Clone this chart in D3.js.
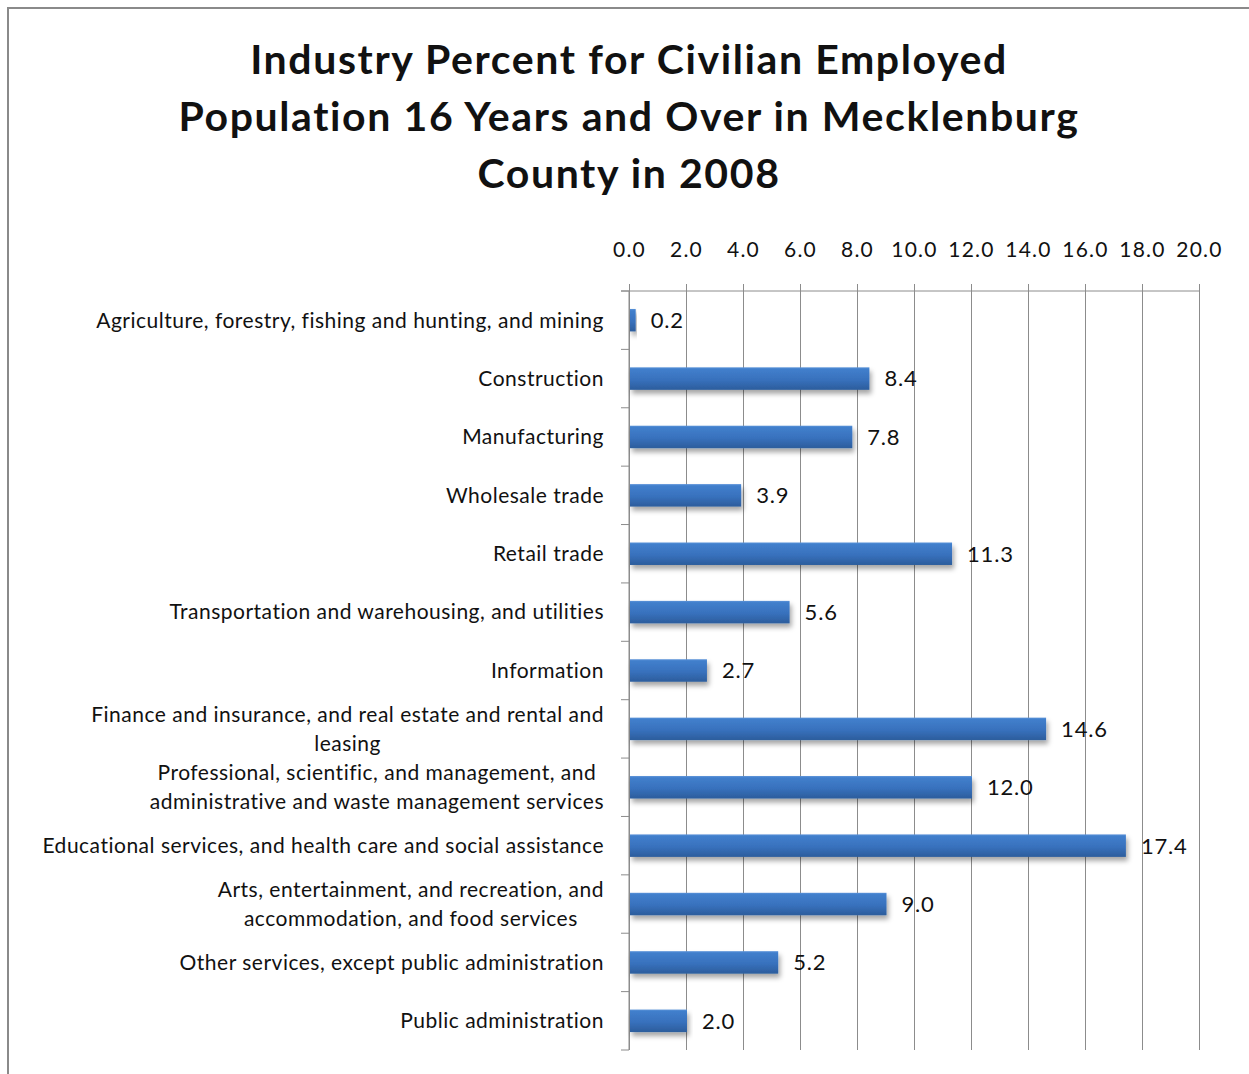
<!DOCTYPE html>
<html>
<head>
<meta charset="utf-8">
<script src="https://cdn.jsdelivr.net/npm/d3@7"></script>
<style>
  html, body { margin: 0; padding: 0; background: #fff; }
  svg { display: block; }
  text { font-family: Lato, "Open Sans", "Liberation Sans", sans-serif; fill: #111; }
</style>
</head>
<body>
<svg id="chart" width="1249" height="1074"></svg>
<script>
// Industry shares (%) of the civilian employed population 16+, Mecklenburg County, 2008
const titleLines = [
  "Industry Percent for Civilian Employed",
  "Population 16 Years and Over in Mecklenburg",
  "County in 2008"
];
const categories = [
  "Agriculture, forestry, fishing and hunting, and mining",
  "Construction",
  "Manufacturing",
  "Wholesale trade",
  "Retail trade",
  "Transportation and warehousing, and utilities",
  "Information",
  "Finance and insurance, and real estate  and rental and\nleasing",
  "Professional, scientific, and management, and\nadministrative and waste management services",
  "Educational services, and health care and social assistance",
  "Arts, entertainment, and recreation, and\naccommodation, and food services",
  "Other services, except public administration",
  "Public administration"
];
const values = [0.2, 8.4, 7.8, 3.9, 11.3, 5.6, 2.7, 14.6, 12.0, 17.4, 9.0, 5.2, 2.0];
const tickValues = [0, 2, 4, 6, 8, 10, 12, 14, 16, 18, 20];

const svg = d3.select("#chart");
const W = 1249, H = 1074;
const plot = { left: 629, right: 1199, top: 291, bottom: 1050 };

// outer chart frame (runs past the right/bottom edges)
svg.append("rect")
  .attr("x", 8).attr("y", 8).attr("width", W + 20).attr("height", H + 20)
  .attr("fill", "none").attr("stroke", "#8a8a8a").attr("stroke-width", 2);

// title
svg.append("g").selectAll("text").data(titleLines).join("text")
  .attr("x", 629).attr("y", (d, i) => 74 + i * 57)
  .attr("text-anchor", "middle")
  .style("font-size", "41px").style("font-weight", "bold")
  .style("letter-spacing", "1.6px")
  .text(d => d);

const x = d3.scaleLinear().domain([0, 20]).range([plot.left, plot.right]);
const y = d3.scaleBand().domain(d3.range(categories.length))
  .range([plot.top, plot.bottom]).paddingInner(0.615).paddingOuter(0.3075);

// defs: bar gradient and soft shadow
const defs = svg.append("defs");
const grad = defs.append("linearGradient").attr("id", "barGrad")
  .attr("x1", 0).attr("y1", 0).attr("x2", 0).attr("y2", 1);
grad.append("stop").attr("offset", "0%").attr("stop-color", "#5a92d8");
grad.append("stop").attr("offset", "8%").attr("stop-color", "#417fcc");
grad.append("stop").attr("offset", "55%").attr("stop-color", "#3871bd");
grad.append("stop").attr("offset", "100%").attr("stop-color", "#2c5d9c");
const shadow = defs.append("filter").attr("id", "barShadow")
  .attr("x", "-5%").attr("y", "-30%").attr("width", "115%").attr("height", "190%");
shadow.append("feDropShadow").attr("dx", 2).attr("dy", 4).attr("stdDeviation", 2.5)
  .attr("flood-color", "#000").attr("flood-opacity", 0.35);

// top value axis with vertical gridlines
const xAxis = d3.axisTop(x).tickValues(tickValues).tickFormat(d3.format(".1f"))
  .tickSize(7).tickPadding(27);
const gx = svg.append("g").attr("transform", `translate(0,${plot.top})`).call(xAxis);
gx.select(".domain").remove();
gx.selectAll(".tick line").attr("stroke", "#8c8c8c").attr("y2", plot.bottom - plot.top).attr("y1", -7);
gx.selectAll(".tick text").style("font-size", "21px").attr("fill", "#111")
  .style("letter-spacing", "1.2px")
  .style("font-family", "Lato, 'Open Sans', sans-serif");
svg.append("line")
  .attr("x1", plot.left - 8).attr("x2", x(20))
  .attr("y1", plot.top).attr("y2", plot.top)
  .attr("stroke", "#8c8c8c");

// category axis line with boundary ticks
const bandStep = (plot.bottom - plot.top) / categories.length;
svg.append("line")
  .attr("x1", plot.left).attr("x2", plot.left)
  .attr("y1", plot.top).attr("y2", plot.bottom)
  .attr("stroke", "#8c8c8c");
svg.append("g").selectAll("line").data(d3.range(categories.length + 1)).join("line")
  .attr("x1", plot.left - 8).attr("x2", plot.left)
  .attr("y1", i => plot.top + i * bandStep).attr("y2", i => plot.top + i * bandStep)
  .attr("stroke", "#8c8c8c");

// bars
svg.append("g").selectAll("rect").data(values).join("rect")
  .attr("x", x(0) + 1)
  .attr("y", (d, i) => y(i))
  .attr("width", d => x(d) - x(0))
  .attr("height", y.bandwidth())
  .attr("fill", "url(#barGrad)")
  .attr("filter", "url(#barShadow)");

// value labels
svg.append("g").selectAll("text").data(values).join("text")
  .attr("x", d => x(d) + 16)
  .attr("y", (d, i) => y(i) + y.bandwidth() / 2)
  .attr("dy", "0.36em")
  .style("font-size", "22px").style("letter-spacing", "0.8px").attr("fill", "#111")
  .text(d => d3.format(".1f")(d));

// category labels, centred blocks right-aligned against the axis
const labelRight = 604;
const lg = svg.append("g");
categories.forEach((c, i) => {
  const lines = c.split("\n");
  const cy = y(i) + y.bandwidth() / 2;
  const t = lg.append("text").style("font-size", "21px").style("letter-spacing", "0.5px");
  const lh = 29;
  lines.forEach((ln, j) => {
    t.append("tspan").attr("y", cy + (j - (lines.length - 1) / 2) * lh).attr("dy", "0.35em").text(ln);
  });
  let maxW = 0;
  t.selectAll("tspan").each(function () { maxW = Math.max(maxW, this.getComputedTextLength()); });
  t.attr("text-anchor", "middle");
  t.selectAll("tspan").attr("x", labelRight - maxW / 2);
});
</script>
</body>
</html>
